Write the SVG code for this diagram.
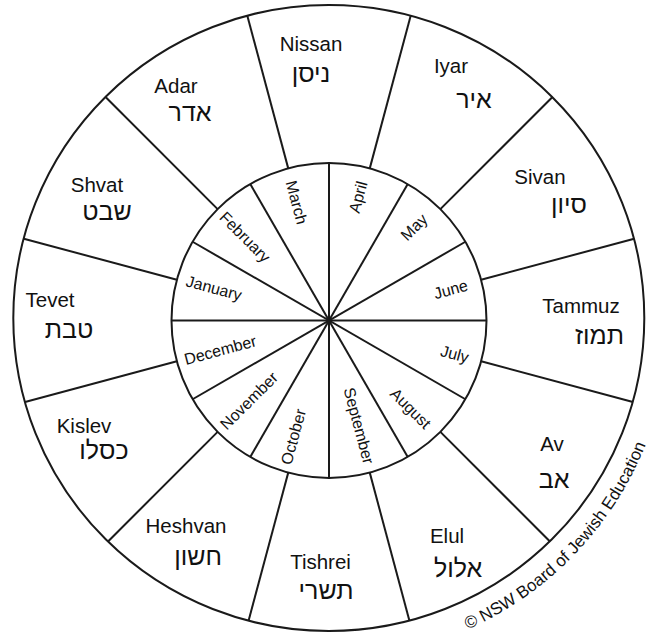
<svg xmlns="http://www.w3.org/2000/svg" width="648" height="633" viewBox="0 0 648 633">
<defs>
<style>
.ln{stroke:#1a1a1a;stroke-width:2;fill:none}
.en{font-family:"Liberation Sans",Arial,sans-serif;font-size:20.5px;fill:#111;text-anchor:middle}
.he{font-family:"Liberation Sans","DejaVu Sans",Arial,sans-serif;font-size:25px;fill:#111;text-anchor:middle}
.mo{font-family:"Liberation Sans",Arial,sans-serif;font-size:16px;fill:#111;text-anchor:middle}
.cp{font-family:"Liberation Sans",Arial,sans-serif;font-size:17px;fill:#111}
</style>
<path id="cpArc" d="M 467.7 629.5 A 341 341 0 0 0 658.4 406.3"/>
</defs>
<rect width="648" height="633" fill="#fff"/>
<g id="rings">
<ellipse class="ln" cx="328.8" cy="318" rx="315.5" ry="313"/>
<circle class="ln" cx="329" cy="320.5" r="157.5"/>
</g>
<g id="connectors" class="ln">
<line x1="171.5" y1="320.5" x2="486.5" y2="320.5"/>
<line x1="329" y1="163" x2="329" y2="478"/>
<line x1="192.6" y1="241.75" x2="465.4" y2="399.25"/>
<line x1="192.6" y1="399.25" x2="465.4" y2="241.75"/>
<line x1="250.25" y1="184.1" x2="407.75" y2="456.9"/>
<line x1="250.25" y1="456.9" x2="407.75" y2="184.1"/>
<line x1="481.13" y1="279.74" x2="634.18" y2="238.73"/>
<line x1="440.37" y1="209.13" x2="552.46" y2="97.04"/>
<line x1="369.76" y1="168.37" x2="410.68" y2="15.65"/>
<line x1="288.24" y1="168.37" x2="247.32" y2="15.65"/>
<line x1="217.63" y1="209.13" x2="105.54" y2="97.04"/>
<line x1="176.87" y1="279.74" x2="23.82" y2="238.73"/>
<line x1="176.87" y1="361.26" x2="25.08" y2="401.93"/>
<line x1="217.63" y1="431.87" x2="108.04" y2="541.46"/>
<line x1="288.24" y1="472.63" x2="248.57" y2="620.69"/>
<line x1="369.76" y1="472.63" x2="409.43" y2="620.69"/>
<line x1="440.37" y1="431.87" x2="549.96" y2="541.46"/>
<line x1="481.13" y1="361.26" x2="632.92" y2="401.93"/>
</g>
<g id="nissan"><text class="en" x="311" y="50.5">Nissan</text><text class="he" x="311" y="82">ניסן</text></g>
<g id="iyar"><text class="en" x="451" y="73">Iyar</text><text class="he" x="474" y="108">איר</text></g>
<g id="sivan"><text class="en" x="540" y="184">Sivan</text><text class="he" x="569" y="213">סיון</text></g>
<g id="tammuz"><text class="en" x="581" y="313">Tammuz</text><text class="he" x="599.5" y="344">תמוז</text></g>
<g id="av"><text class="en" x="552" y="451">Av</text><text class="he" x="554" y="488">אב</text></g>
<g id="elul"><text class="en" x="447" y="543">Elul</text><text class="he" x="458" y="577">אלול</text></g>
<g id="tishrei"><text class="en" x="320.5" y="569">Tishrei</text><text class="he" x="326" y="599">תשרי</text></g>
<g id="heshvan"><text class="en" x="186" y="533">Heshvan</text><text class="he" x="198" y="565">חשון</text></g>
<g id="kislev"><text class="en" x="84" y="433">Kislev</text><text class="he" x="104" y="459">כסלו</text></g>
<g id="tevet"><text class="en" x="50" y="306.5">Tevet</text><text class="he" x="69" y="338">טבת</text></g>
<g id="shvat"><text class="en" x="97" y="191.5">Shvat</text><text class="he" x="107" y="220">שבט</text></g>
<g id="adar"><text class="en" x="176" y="93">Adar</text><text class="he" x="190" y="120.5">אדר</text></g>
<g id="january"><text class="mo" dy="0.35em" transform="translate(214 288) rotate(15)">January</text></g>
<g id="february"><text class="mo" dy="0.35em" transform="translate(245 237) rotate(45)">February</text></g>
<g id="march"><text class="mo" dy="0.35em" transform="translate(296.7 202.3) rotate(75)">March</text></g>
<g id="april"><text class="mo" dy="0.35em" transform="translate(358 197) rotate(-75)">April</text></g>
<g id="may"><text class="mo" dy="0.35em" transform="translate(414 227) rotate(-45)">May</text></g>
<g id="june"><text class="mo" dy="0.35em" transform="translate(450.7 289.3) rotate(-15)">June</text></g>
<g id="july"><text class="mo" dy="0.35em" transform="translate(454.7 354) rotate(15)">July</text></g>
<g id="august"><text class="mo" dy="0.35em" transform="translate(410.7 408.3) rotate(45)">August</text></g>
<g id="september"><text class="mo" dy="0.35em" transform="translate(359 425.7) rotate(75)">September</text></g>
<g id="october"><text class="mo" dy="0.35em" transform="translate(293.3 436.7) rotate(-75)">October</text></g>
<g id="november"><text class="mo" dy="0.35em" transform="translate(249 400.7) rotate(-45)">November</text></g>
<g id="december"><text class="mo" dy="0.35em" transform="translate(220.3 350) rotate(-15)">December</text></g>
<g id="copyright"><text class="cp"><textPath href="#cpArc">© NSW Board of Jewish Education</textPath></text></g>
</svg>
